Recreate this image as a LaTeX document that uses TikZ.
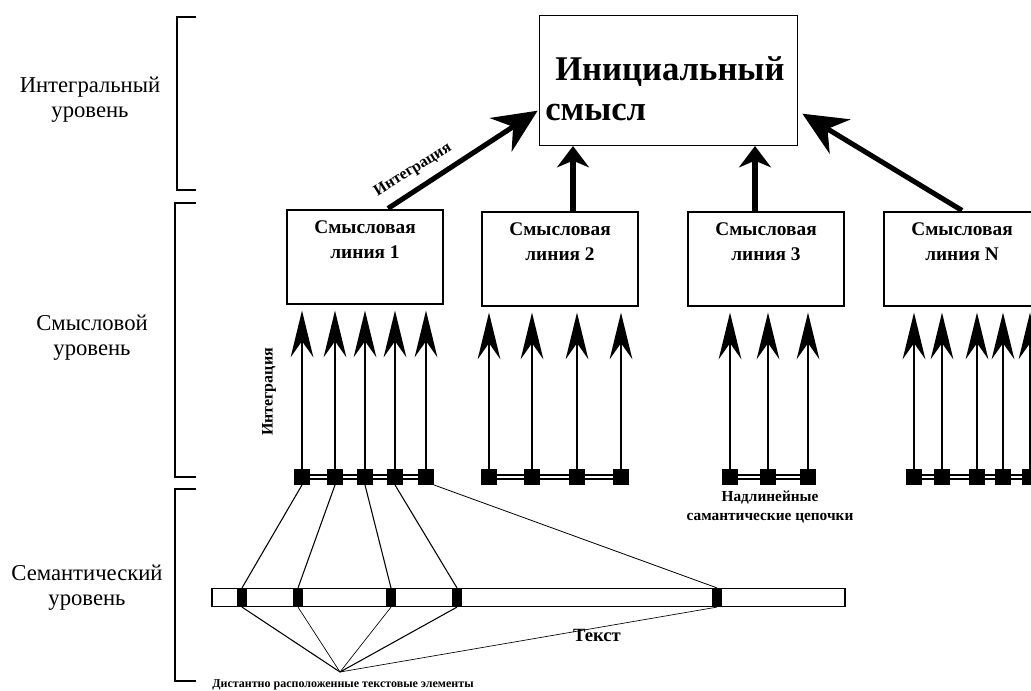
\documentclass[tikz,border=0pt]{standalone}
\usepackage{fontspec}
\setmainfont{Liberation Serif}
\usetikzlibrary{arrows.meta,calc}
\begin{document}
\begin{tikzpicture}[x=0.75pt,y=-0.75pt,
  lvl/.style={font=\fontsize{17}{18.5}\selectfont, align=center, inner sep=0},
  linebox/.style={draw, line width=0.8pt, minimum width=117pt, minimum height=70.5pt, inner sep=0},
  boxtext/.style={font=\bfseries\fontsize{14.5}{18.5}\selectfont, align=center, anchor=north, inner sep=0},
  sq/.style={fill=black, minimum size=11.5pt, inner sep=0},
  mk/.style={fill=black, minimum width=7.5pt, minimum height=14pt, inner sep=0},
  chain/.style={line width=1.1pt, double=white, double distance=2pt},
  up/.style={line width=2.2pt, -{Stealth[length=35pt, width=17pt, inset=12pt]}},
  bigup/.style={line width=3.8pt, -{Stealth[length=33pt, width=30pt, inset=11pt]}},
  midup/.style={line width=3.8pt, -{Stealth[length=16pt, width=24pt, inset=5pt]}},
  thin/.style={line width=0.8pt},
  brk/.style={line width=1.1pt},
  small/.style={font=\bfseries\fontsize{12}{14}\selectfont, inner sep=0}
]
\clip (0,0) rectangle (1031,690);

% level brackets
\draw[brk] (196,17) -- (177,17) -- (177,190) -- (196,190);
\draw[brk] (196,203) -- (175,203) -- (175,477) -- (196,477);
\draw[brk] (196,489) -- (175,489) -- (175,681) -- (196,681);

% level labels
\node[lvl] (l1) at (90,100) {Интегральный\\уровень};
\node[lvl] (l2) at (92,338) {Смысловой\\уровень};
\node[lvl] (l3) at (87,588) {Семантический\\уровень};

% top box
\node[draw, line width=0.8pt, minimum width=194pt, minimum height=97pt, inner sep=0] (top) at (668.5,80.5) {};
\node[font=\bfseries\fontsize{26}{30}\selectfont, anchor=west, inner sep=0] (tt1) at (555,72) {Инициальный};
\node[font=\bfseries\fontsize{26}{30}\selectfont, anchor=west, inner sep=0] (tt2) at (545,112) {смысл};

% semantic line boxes
\node[linebox] (b1) at (365,257) {};
\node[linebox] (b2) at (560,259) {};
\node[linebox] (b3) at (766,259) {};
\node[linebox] (bN) at (962,259) {};
\node[boxtext] (bt1) at ($(b1.north)+(0,11)$) {Смысловая\\линия 1};
\node[boxtext] (bt2) at ($(b2.north)+(0,11)$) {Смысловая\\линия 2};
\node[boxtext] (bt3) at ($(b3.north)+(0,11)$) {Смысловая\\линия 3};
\node[boxtext] (btN) at ($(bN.north)+(0,11)$) {Смысловая\\линия N};

% arrows to top box
\draw[bigup] ($(b1.north)+(23,-1)$) -- ($(top.south west)+(-1,-35)$);
\draw[midup] (b2.north -| 573,0) -- (573,146);
\draw[midup] (b3.north -| 755,0) -- (755,146);
\draw[bigup] ($(bN.north)+(0,-1)$) -- ($(top.south east)+(4,-32)$);
\node[small, rotate=32] (int1) at (413,170) {Интеграция};

% squares
\foreach \n/\x in {1a/302,1b/335,1c/365,1d/395,1e/426,
                   2a/489,2b/532,2c/577,2d/621,
                   3a/730,3b/768,3c/808,
                   Na/914,Nb/942,Nc/977,Nd/1003,Ne/1030}
  \node[sq] (s\n) at (\x,477) {};

% double chains
\draw[chain] (s1a) -- (s1b) -- (s1c) -- (s1d) -- (s1e);
\draw[chain] (s2a) -- (s2b) -- (s2c) -- (s2d);
\draw[chain] (s3a) -- (s3b) -- (s3c);
\draw[chain] (sNa) -- (sNb) -- (sNc) -- (sNd) -- (sNe);

% vertical arrows
\foreach \n/\b in {1a/b1,1b/b1,1c/b1,1d/b1,1e/b1,2a/b2,2b/b2,2c/b2,2d/b2,3a/b3,3b/b3,3c/b3,Na/bN,Nb/bN,Nc/bN,Nd/bN,Ne/bN}
  \draw[up] (s\n.north) -- ($(s\n.north |- \b.south)+(0,6)$);

\node[small, rotate=90] (int2) at (269,392) {Интеграция};

\node[small, align=center, font=\bfseries\fontsize{11.5}{14.5}\selectfont] (nadl) at (770,507) {Надлинейные\\самантические цепочки};

% text bar
\node[draw, line width=0.8pt, minimum width=474.75pt, minimum height=14pt, inner sep=0] (bar) at (528.5,597.5) {};
\node[mk] (m1) at (242,597.5) {};
\node[mk] (m2) at (298,597.5) {};
\node[mk] (m3) at (391,597.5) {};
\node[mk] (m4) at (457,597.5) {};
\node[mk] (m5) at (717,597.5) {};

% links from squares to text elements
\draw[thin] (s1a.south) -- (m1.north);
\draw[thin] (s1b.south) -- (m2.north);
\draw[thin] (s1c.south) -- (m3.north);
\draw[thin] (s1d.south) -- (m4.north);
\draw[line width=0.6pt] (s1e.south east) -- (m5.north);

% convergence
\coordinate (conv) at (340,672);
\draw[thin] (m1.south) -- (conv);
\draw[line width=0.5pt] (m2.south) -- (conv);
\draw[line width=0.5pt] (m3.south) -- (conv);
\draw[thin] (m4.south) -- (conv);
\draw[line width=0.5pt] (m5.south) -- (conv);

\node[font=\bfseries\fontsize{14}{16}\selectfont, inner sep=0] (tekst) at (597,635) {Текст};
\node[font=\bfseries\fontsize{9}{11}\selectfont, inner sep=0] (dist) at (343,685) {Дистантно расположенные текстовые элементы};
\end{tikzpicture}
\end{document}
